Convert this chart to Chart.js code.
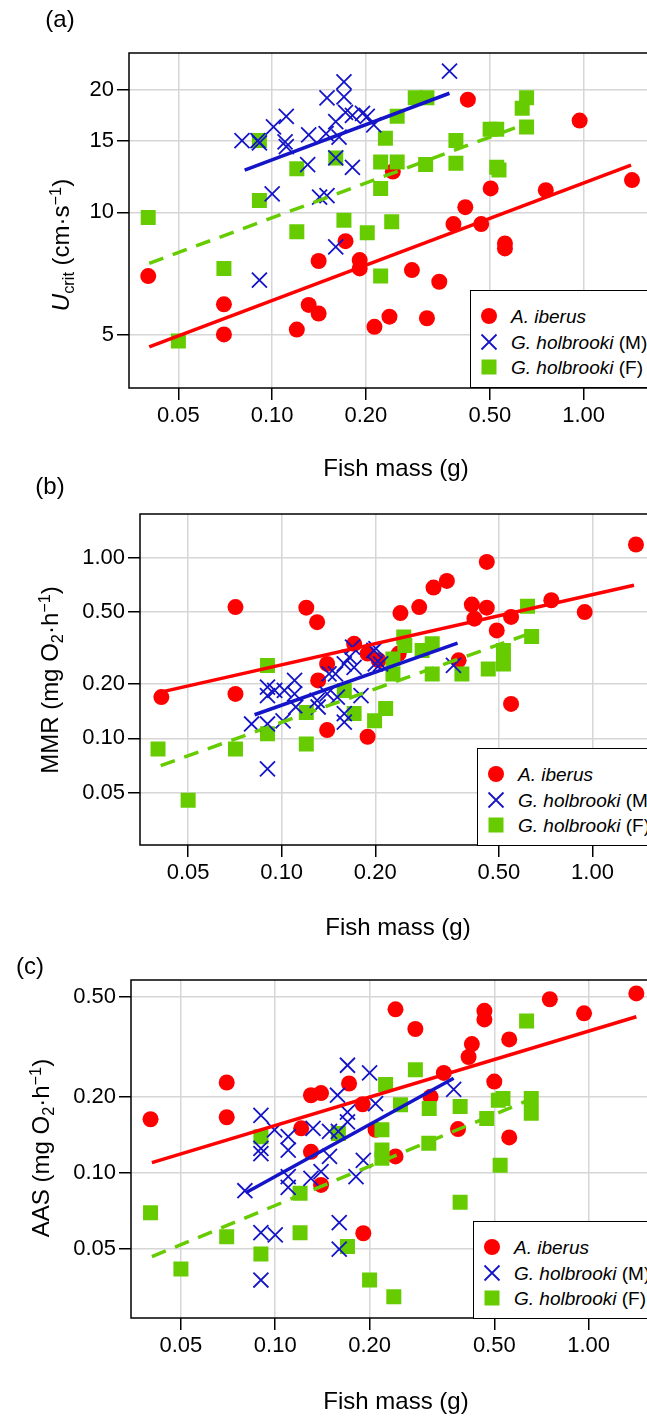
<!DOCTYPE html>
<html>
<head>
<meta charset="utf-8">
<script src="https://cdn.jsdelivr.net/npm/chart.js@4.4.1/dist/chart.umd.min.js"></script>
<style>
  html, body { margin: 0; padding: 0; background: #fff; }
  body { position: relative; width: 647px; height: 1416px; overflow: hidden;
         font-family: 'Liberation Sans', Arial, Helvetica, sans-serif; color: #000; }
  canvas { position: absolute; left: 0; }
  .txt { position: absolute; white-space: nowrap; line-height: 1; transform: translate(-50%, -50%); z-index: 2; }
  .big { font-size: 24px; }
  .ytitle { transform: translate(-50%, -50%) rotate(-90deg); }
  .sub { font-size: 0.68em; position: relative; top: 0.3em; }
  .sup { font-size: 0.68em; position: relative; top: -0.5em; }
  .legend { position: absolute; width: 200px; height: 98px; box-sizing: border-box;
            background: #fff; border: 1.5px solid #000; z-index: 2; font-size: 19px; }
  .legend svg { position: absolute; left: 8px; }
  .legend span.t { position: absolute; left: 40px; line-height: 1; transform: translateY(-50%); white-space: nowrap; }
</style>
</head>
<body>
<canvas id="chart-a" width="670" height="500" style="top:0px"></canvas>
<canvas id="chart-b" width="670" height="490" style="top:460px"></canvas>
<canvas id="chart-c" width="670" height="476" style="top:940px"></canvas>

<!-- panel letters and axis titles -->
<div class="txt big" style="left:60px;top:19px">(a)</div>
<div class="txt big" style="left:50px;top:486px">(b)</div>
<div class="txt big" style="left:30px;top:966px">(c)</div>

<div class="txt big" style="left:396px;top:468px">Fish mass (g)</div>
<div class="txt big" style="left:398px;top:927px">Fish mass (g)</div>
<div class="txt big" style="left:396px;top:1401px">Fish mass (g)</div>

<div class="txt big ytitle" style="left:61px;top:245px"><i>U</i><span class="sub">crit</span> (cm·s<span class="sup">−1</span>)</div>
<div class="txt big ytitle" style="left:50px;top:680px">MMR (mg O<span class="sub">2</span>·h<span class="sup">−1</span>)</div>
<div class="txt big ytitle" style="left:41px;top:1148px">AAS (mg O<span class="sub">2</span>·h<span class="sup">−1</span>)</div>

<div class="legend" id="legend-a" style="left:470px;top:290px"></div>
<div class="legend" id="legend-b" style="left:477px;top:748px"></div>
<div class="legend" id="legend-c" style="left:473px;top:1221px"></div>

<script>
// ---- data ----
const massTicks = [0.05, 0.1, 0.2, 0.5, 1];

// (a) Ucrit
const ucritTicks = [5, 10, 15, 20];
const ucritIberusMass = [0.040, 0.070, 0.070, 0.120, 0.131, 0.141, 0.141, 0.172, 0.191, 0.191, 0.213, 0.238, 0.244, 0.281, 0.314, 0.344, 0.382, 0.417, 0.425, 0.469, 0.503, 0.559, 0.559, 0.756, 0.971, 1.43];
const ucritIberus     = [6.98, 5.95, 5.02, 5.16, 5.93, 5.65, 7.60, 8.50, 7.64, 7.29, 5.24, 5.55, 12.6, 7.22, 5.50, 6.76, 9.36, 10.3, 18.9, 9.36, 11.45, 8.39, 8.16, 11.34, 16.8, 12.0];
const ucritMaleMass = [0.080, 0.090, 0.091, 0.101, 0.111, 0.110, 0.111, 0.131, 0.130, 0.100, 0.142, 0.150, 0.149, 0.150, 0.170, 0.170, 0.160, 0.164, 0.172, 0.181, 0.195, 0.202, 0.212, 0.181, 0.160, 0.160, 0.091, 0.371];
const ucritMale     = [15.0, 15.0, 14.8, 16.2, 17.2, 14.9, 14.5, 15.5, 13.1, 11.1, 10.9, 11.0, 15.6, 19.1, 20.9, 19.2, 16.7, 15.3, 17.6, 17.3, 17.5, 17.2, 16.4, 12.9, 13.6, 8.23, 6.82, 22.2];
const ucritFemaleMass = [0.040, 0.050, 0.070, 0.091, 0.091, 0.120, 0.120, 0.160, 0.170, 0.202, 0.223, 0.223, 0.223, 0.231, 0.242, 0.252, 0.252, 0.288, 0.314, 0.311, 0.389, 0.389, 0.501, 0.526, 0.526, 0.535, 0.635, 0.656, 0.656];
const ucritFemale     = [9.72, 4.84, 7.29, 10.7, 15.0, 12.8, 8.96, 13.6, 9.57, 8.91, 6.98, 11.45, 13.3, 15.2, 9.48, 17.2, 13.3, 19.1, 19.1, 13.1, 15.0, 13.2, 16.0, 16.0, 12.9, 12.7, 18.0, 19.1, 16.2];
const ucritFitIberus = [[0.0403, 1.42], [4.68, 13.06]];
const ucritFitMale   = [[0.0816, 0.371], [12.7, 19.6]];
const ucritFitFemale = [[0.0403, 0.649], [7.5, 16.47]];

// (b) MMR
const mmrTicks = [0.05, 0.1, 0.2, 0.5, 1];
const mmrIberusMass = [0.041, 0.071, 0.071, 0.120, 0.130, 0.131, 0.140, 0.140, 0.171, 0.189, 0.189, 0.205, 0.238, 0.241, 0.277, 0.308, 0.340, 0.371, 0.409, 0.417, 0.457, 0.457, 0.492, 0.547, 0.547, 0.737, 0.944, 1.38];
const mmrIberus     = [0.169, 0.532, 0.176, 0.528, 0.439, 0.209, 0.258, 0.111, 0.333, 0.294, 0.102, 0.270, 0.294, 0.493, 0.532, 0.682, 0.742, 0.270, 0.549, 0.459, 0.945, 0.528, 0.395, 0.469, 0.155, 0.580, 0.499, 1.18];
const mmrMaleMass = [0.080, 0.090, 0.090, 0.090, 0.090, 0.095, 0.101, 0.102, 0.110, 0.110, 0.111, 0.130, 0.131, 0.140, 0.142, 0.149, 0.151, 0.159, 0.159, 0.159, 0.165, 0.169, 0.171, 0.180, 0.198, 0.200, 0.201, 0.208, 0.357];
const mmrMale     = [0.120, 0.120, 0.192, 0.172, 0.0677, 0.184, 0.125, 0.184, 0.209, 0.176, 0.149, 0.162, 0.149, 0.176, 0.227, 0.227, 0.169, 0.137, 0.123, 0.258, 0.281, 0.319, 0.247, 0.172, 0.306, 0.258, 0.313, 0.258, 0.253];
const mmrFemaleMass = [0.040, 0.050, 0.071, 0.090, 0.090, 0.120, 0.120, 0.159, 0.171, 0.199, 0.216, 0.228, 0.228, 0.247, 0.249, 0.283, 0.305, 0.305, 0.380, 0.462, 0.517, 0.517, 0.618, 0.637];
const mmrFemale     = [0.0873, 0.0455, 0.0873, 0.253, 0.106, 0.0931, 0.139, 0.184, 0.137, 0.125, 0.146, 0.275, 0.227, 0.363, 0.326, 0.306, 0.333, 0.227, 0.227, 0.242, 0.306, 0.258, 0.537, 0.366];
const mmrFitIberus = [[0.0408, 1.36], [0.180, 0.702]];
const mmrFitMale   = [[0.0818, 0.368], [0.135, 0.336]];
const mmrFitFemale = [[0.0408, 0.656], [0.0706, 0.39]];

// (c) AAS
const aasTicks = [0.05, 0.1, 0.2, 0.5];
const aasIberusMass = [0.040, 0.070, 0.070, 0.121, 0.130, 0.140, 0.130, 0.140, 0.172, 0.190, 0.191, 0.209, 0.242, 0.242, 0.280, 0.313, 0.345, 0.383, 0.414, 0.424, 0.465, 0.465, 0.500, 0.558, 0.558, 0.752, 0.967, 1.42];
const aasIberus     = [0.163, 0.228, 0.166, 0.150, 0.203, 0.207, 0.121, 0.0894, 0.226, 0.187, 0.0575, 0.148, 0.445, 0.116, 0.372, 0.200, 0.249, 0.149, 0.288, 0.324, 0.439, 0.406, 0.230, 0.338, 0.138, 0.488, 0.429, 0.515];
const aasMaleMass = [0.080, 0.090, 0.090, 0.090, 0.090, 0.090, 0.0995, 0.100, 0.110, 0.110, 0.110, 0.110, 0.132, 0.130, 0.140, 0.149, 0.149, 0.158, 0.159, 0.160, 0.160, 0.170, 0.170, 0.170, 0.181, 0.191, 0.200, 0.209, 0.371];
const aasMale     = [0.0848, 0.169, 0.125, 0.119, 0.0578, 0.0375, 0.148, 0.0566, 0.139, 0.123, 0.0964, 0.0875, 0.150, 0.095, 0.101, 0.146, 0.116, 0.203, 0.146, 0.0634, 0.0497, 0.267, 0.174, 0.159, 0.0964, 0.112, 0.249, 0.188, 0.214];
const aasFemaleMass = [0.040, 0.050, 0.070, 0.090, 0.090, 0.120, 0.120, 0.159, 0.170, 0.200, 0.225, 0.219, 0.219, 0.219, 0.239, 0.251, 0.280, 0.309, 0.310, 0.389, 0.389, 0.473, 0.515, 0.522, 0.533, 0.634, 0.656, 0.656];
const aasFemale     = [0.0694, 0.0415, 0.0557, 0.0476, 0.139, 0.0828, 0.0578, 0.143, 0.0509, 0.0375, 0.224, 0.148, 0.123, 0.114, 0.0322, 0.186, 0.256, 0.131, 0.180, 0.183, 0.0763, 0.164, 0.194, 0.107, 0.197, 0.400, 0.197, 0.172];
const aasFitIberus = [[0.0404, 1.42], [0.1096, 0.416]];
const aasFitMale   = [[0.0805, 0.371], [0.0833, 0.237]];
const aasFitFemale = [[0.0404, 0.656], [0.0464, 0.196]];

// ---- styling ----
const FONT = "'Liberation Sans', Arial, Helvetica, sans-serif";
const RED = '#ff0000';
const BLUE = '#1414c8';
const GREEN = '#66cc00';
const GRID = '#d6d6d6';

const pts = (xs, ys) => xs.map((x, i) => ({ x, y: ys[i] }));

// black box round the plot area
const framePlugin = {
  id: 'frame',
  beforeDatasetsDraw(c) {
    const a = c.chartArea;
    const ctx = c.ctx;
    ctx.save();
    ctx.strokeStyle = '#000';
    ctx.lineWidth = 1.5;
    ctx.strokeRect(a.left, a.top, a.right - a.left, a.bottom - a.top);
    ctx.restore();
  },
};

const axisCommon = (ticks, fmt, extra) => Object.assign({
  type: 'logarithmic',
  afterBuildTicks(s) { s.ticks = ticks.map(v => ({ value: v })); },
  grid: { color: GRID, lineWidth: 1.5, tickColor: '#000', tickWidth: 1.5, tickLength: 12 },
  border: { display: false },
  ticks: {
    color: '#000', font: { family: FONT, size: 22 }, autoSkip: false,
    maxRotation: 0, minRotation: 0, callback: fmt,
  },
}, extra);

const makePanel = (id, p) => new Chart(document.getElementById(id), {
  type: 'scatter',
  data: {
    datasets: [
      { label: 'A. iberus', data: pts(p.iberus[0], p.iberus[1]), pointStyle: 'circle',
        pointRadius: 8, backgroundColor: RED, borderWidth: 0, order: 6 },
      { label: 'G. holbrooki (F)', data: pts(p.female[0], p.female[1]), pointStyle: 'rect',
        pointRadius: 10.6, backgroundColor: GREEN, borderWidth: 0, order: 5 },
      { label: 'G. holbrooki (M)', data: pts(p.male[0], p.male[1]), pointStyle: 'crossRot',
        pointRadius: 10.6, borderColor: BLUE, backgroundColor: BLUE, borderWidth: 1.8, order: 4 },
      { type: 'line', label: 'fit A', data: pts(p.fitIberus[0], p.fitIberus[1]), showLine: true,
        borderColor: RED, borderWidth: 3.5, pointRadius: 0, order: 3 },
      { type: 'line', label: 'fit F', data: pts(p.fitFemale[0], p.fitFemale[1]), showLine: true,
        borderColor: GREEN, borderWidth: 3.5, borderDash: [15, 10], pointRadius: 0, order: 2 },
      { type: 'line', label: 'fit M', data: pts(p.fitMale[0], p.fitMale[1]), showLine: true,
        borderColor: BLUE, borderWidth: 3.5, pointRadius: 0, order: 1 },
    ],
  },
  options: {
    responsive: false,
    animation: false,
    events: [],
    layout: { padding: { top: p.padTop, right: 10, left: 0, bottom: 0 } },
    plugins: { legend: { display: false }, tooltip: { enabled: false } },
    scales: {
      x: axisCommon(massTicks, v => v.toFixed(2), {
        min: p.xMin, max: p.xMax,
        afterFit(s) { s.height = p.xAxisH; },
      }),
      y: axisCommon(p.yTicks, p.yFmt, {
        min: p.yMin, max: p.yMax,
        afterFit(s) { s.width = p.left; },
      }),
    },
  },
  plugins: [framePlugin],
});

makePanel('chart-a', {
  iberus: [ucritIberusMass, ucritIberus], male: [ucritMaleMass, ucritMale], female: [ucritFemaleMass, ucritFemale],
  fitIberus: ucritFitIberus, fitMale: ucritFitMale, fitFemale: ucritFitFemale,
  yTicks: ucritTicks, yFmt: v => String(v), yMin: 3.71, yMax: 24.6,
  xMin: 0.0347, xMax: 1.728, left: 129, padTop: 53, xAxisH: 112,
});
makePanel('chart-b', {
  iberus: [mmrIberusMass, mmrIberus], male: [mmrMaleMass, mmrMale], female: [mmrFemaleMass, mmrFemale],
  fitIberus: mmrFitIberus, fitMale: mmrFitMale, fitFemale: mmrFitFemale,
  yTicks: mmrTicks, yFmt: v => v.toFixed(2), yMin: 0.0257, yMax: 1.74,
  xMin: 0.0350, xMax: 1.62, left: 140, padTop: 54, xAxisH: 105,
});
makePanel('chart-c', {
  iberus: [aasIberusMass, aasIberus], male: [aasMaleMass, aasMale], female: [aasFemaleMass, aasFemale],
  fitIberus: aasFitIberus, fitMale: aasFitMale, fitFemale: aasFitFemale,
  yTicks: aasTicks, yFmt: v => v.toFixed(2), yMin: 0.0265, yMax: 0.582,
  xMin: 0.03465, xMax: 1.66, left: 131, padTop: 40, xAxisH: 98,
});

// html legends (mixed italic text)
const legendRows = [
  { svg: `<circle cx="10" cy="10" r="8" fill="${RED}"/>`, html: '<i>A. iberus</i>' },
  { svg: `<path d="M2.5 2.5L17.5 17.5M17.5 2.5L2.5 17.5" stroke="${BLUE}" stroke-width="1.8"/>`, html: '<i>G. holbrooki</i> (M)' },
  { svg: `<rect x="2.5" y="2.5" width="15" height="15" fill="${GREEN}"/>`, html: '<i>G. holbrooki</i> (F)' },
];
const legendRowY = [26.5, 52, 77.5];
['legend-a', 'legend-b', 'legend-c'].forEach(id => {
  const box = document.getElementById(id);
  legendRows.forEach((r, i) => {
    const y = legendRowY[i];
    box.insertAdjacentHTML('beforeend',
      `<svg width="20" height="20" style="top:${y - 10 - 1.5}px">${r.svg}</svg>` +
      `<span class="t" style="top:${y - 1.5}px">${r.html}</span>`);
  });
});
</script>
</body>
</html>
